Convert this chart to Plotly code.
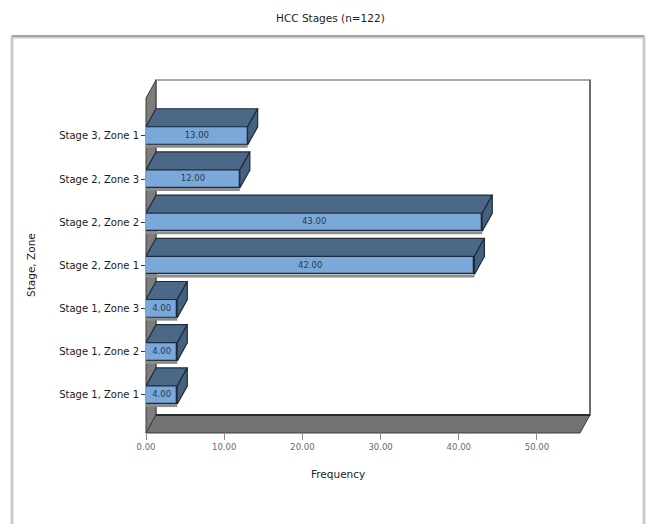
import plotly.graph_objects as go

# ---- data ----
categories = [
    "Stage 1, Zone 1",
    "Stage 1, Zone 2",
    "Stage 1, Zone 3",
    "Stage 2, Zone 1",
    "Stage 2, Zone 2",
    "Stage 2, Zone 3",
    "Stage 3, Zone 1",
]
frequency = [4, 4, 4, 42, 43, 12, 13]
x_ticks = [0, 10, 20, 30, 40, 50]

# ---- layout geometry (pixels) ----
W, H = 647, 524
L, R, T, B = 146, 580, 98, 433      # front plane of the 3D box
X_MAX = 55.5
Y_MIN, Y_MAX = -0.88, 6.875
DX, DY = 10, 18                      # oblique depth offset
SHADOW = 3                           # shadow strip under each bar
BAR_H = 0.42

ux = (R - L) / X_MAX
uy = (B - T) / (Y_MAX - Y_MIN)
ddx = DX / ux
ddy = DY / uy
dsh = SHADOW / uy

FRONT = "#7aa8d8"
FACE = "#4b6887"
EDGE = "#1e2b3a"
FONT = "DejaVu Sans"


def P(px, py):
    return (px - L) / (R - L), (B - py) / (B - T)


def path(points):
    pts = [P(x, y) for x, y in points]
    return "M " + " L ".join(f"{x:.5f},{y:.5f}" for x, y in pts) + " Z"


fig = go.Figure()

ypos = list(range(len(categories)))

# shadow strips under the bars
for i, v in enumerate(frequency):
    y0 = i - BAR_H / 2
    rect = [(0, y0 - dsh), (v, y0 - dsh), (v, y0), (0, y0), (0, y0 - dsh)]
    fig.add_trace(go.Scatter(
        x=[p[0] for p in rect], y=[p[1] for p in rect],
        mode="lines", fill="toself", fillcolor="#8c8c8c",
        line=dict(color="#8c8c8c", width=0),
        hoverinfo="skip", showlegend=False,
    ))

# front faces
fig.add_trace(go.Bar(
    x=frequency, y=ypos, orientation="h", width=BAR_H,
    marker=dict(color=FRONT, line=dict(color=EDGE, width=1.3)),
    hoverinfo="skip", showlegend=False,
))

# top and right faces of each bar
for i, v in enumerate(frequency):
    y0, y1 = i - BAR_H / 2, i + BAR_H / 2
    top = [(0, y1), (v, y1), (v + ddx, y1 + ddy), (ddx, y1 + ddy), (0, y1)]
    side = [(v, y0), (v, y1), (v + ddx, y1 + ddy), (v + ddx, y0 + ddy), (v, y0)]
    for face, col in ((top, FACE), (side, "#45617f")):
        fig.add_trace(go.Scatter(
            x=[p[0] for p in face], y=[p[1] for p in face],
            mode="lines", fill="toself", fillcolor=col,
            line=dict(color=EDGE, width=1.2),
            hoverinfo="skip", showlegend=False,
        ))

# value labels on the front faces
fig.add_trace(go.Scatter(
    x=[v / 2 for v in frequency], y=ypos,
    mode="text", text=[f"{v:.2f}" for v in frequency],
    textfont=dict(family=FONT, size=8.5, color="#2a3b52"),
    hoverinfo="skip", showlegend=False,
))

shapes = []
# outer frame
shapes.append(dict(type="path", xref="paper", yref="paper",
                   path=path([(12, 37), (644, 37), (644, 560), (12, 560)]),
                   line=dict(color="#cccccc", width=3), fillcolor="rgba(0,0,0,0)", layer="below"))
shapes.append(dict(type="line", xref="paper", yref="paper",
                   x0=P(12, 0)[0], x1=P(644, 0)[0], y0=P(0, 36)[1], y1=P(0, 36)[1],
                   line=dict(color="#a4a4a4", width=2), layer="below"))
# back wall
shapes.append(dict(type="path", xref="paper", yref="paper",
                   path=path([(L + DX, T - DY), (R + DX, T - DY), (R + DX, B - DY), (L + DX, B - DY)]),
                   line=dict(color="#a8a8a8", width=2), fillcolor="white", layer="below"))
shapes.append(dict(type="line", xref="paper", yref="paper",
                   x0=P(R + DX, 0)[0], x1=P(R + DX, 0)[0], y0=P(0, T - DY)[1], y1=P(0, B - DY)[1],
                   line=dict(color="#6e6e6e", width=2), layer="below"))
# left wall
shapes.append(dict(type="path", xref="paper", yref="paper",
                   path=path([(L, B), (L, T), (L + DX, T - DY), (L + DX, B - DY)]),
                   line=dict(color="#3c3c3c", width=1), fillcolor="#7c7c7c", layer="below"))
# floor
shapes.append(dict(type="path", xref="paper", yref="paper",
                   path=path([(L, B), (R, B), (R + DX, B - DY), (L + DX, B - DY)]),
                   line=dict(color="#3a3a3a", width=1), fillcolor="#737373", layer="below"))
shapes.append(dict(type="line", xref="paper", yref="paper",
                   x0=P(L + DX, 0)[0], x1=P(R + DX, 0)[0], y0=P(0, B - DY)[1], y1=P(0, B - DY)[1],
                   line=dict(color="#2a2a2a", width=2), layer="below"))

annotations = [
    dict(text="HCC Stages (n=122)", xref="paper", yref="paper",
         x=P(330, 0)[0], y=P(0, 18)[1], showarrow=False,
         xanchor="center", yanchor="middle",
         font=dict(family=FONT, size=10.5, color="#222222")),
    dict(text="Frequency", xref="paper", yref="paper",
         x=P(338, 0)[0], y=P(0, 474)[1], showarrow=False,
         xanchor="center", yanchor="middle",
         font=dict(family=FONT, size=10.5, color="#222222")),
    dict(text="Stage, Zone", xref="paper", yref="paper", textangle=-90,
         x=P(31, 0)[0], y=P(0, 265)[1], showarrow=False,
         xanchor="center", yanchor="middle",
         font=dict(family=FONT, size=10.5, color="#222222")),
]

fig.update_layout(
    width=W, height=H,
    margin=dict(l=L, r=W - R, t=T, b=H - B, pad=0),
    paper_bgcolor="white", plot_bgcolor="rgba(0,0,0,0)",
    shapes=shapes, annotations=annotations,
    bargap=0,
)
fig.update_xaxes(
    range=[0, X_MAX], tickvals=x_ticks, ticktext=[f"{t:.2f}" for t in x_ticks],
    showgrid=False, zeroline=False, showline=False,
    ticks="outside", ticklen=6, tickcolor="#8a8a8a", tickwidth=1,
    tickfont=dict(family=FONT, size=8.5, color="#6a6a6a"),
    fixedrange=True,
)
fig.update_yaxes(
    range=[Y_MIN, Y_MAX], tickvals=ypos, ticktext=categories,
    showgrid=False, zeroline=False, showline=False,
    ticks="outside", ticklen=4, tickcolor="#333333", tickwidth=1,
    tickfont=dict(family=FONT, size=10, color="#1a1a1a"),
    fixedrange=True,
)

fig.write_html("out.html")
